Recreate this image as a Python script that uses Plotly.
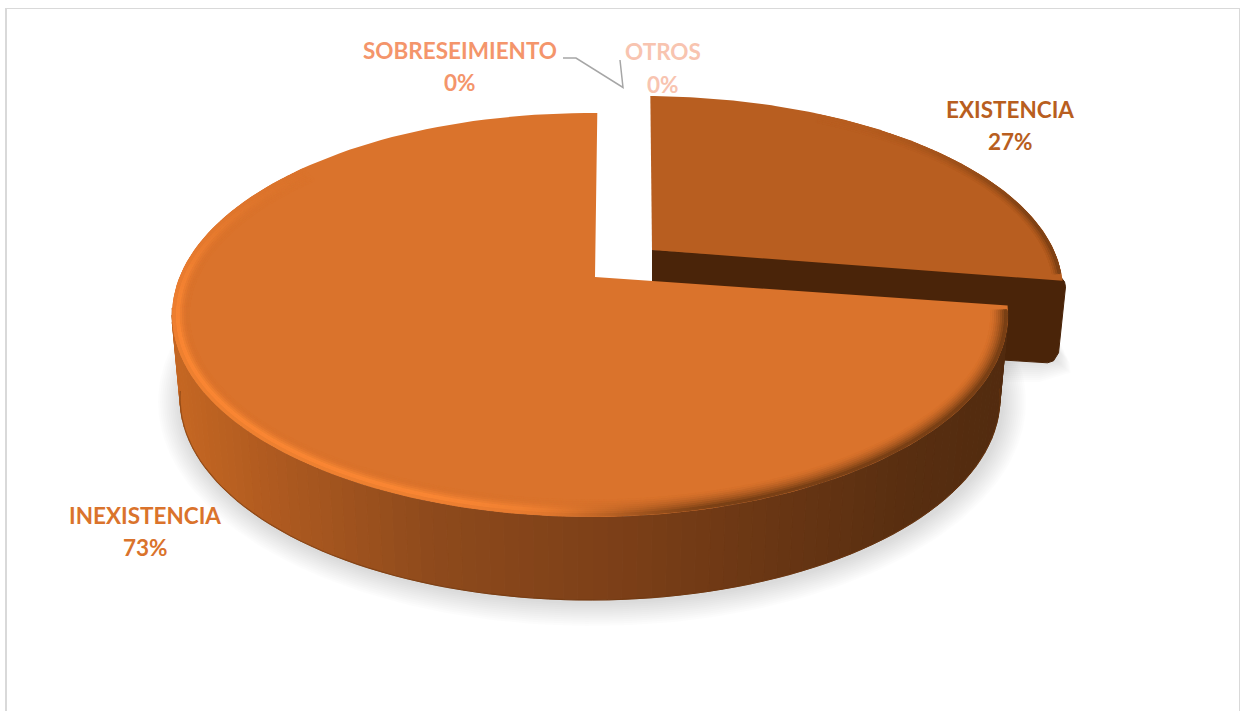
import numpy as np
import plotly.graph_objects as go

# ---- data ----
categories = ["EXISTENCIA", "INEXISTENCIA", "SOBRESEIMIENTO", "OTROS"]
shares = [27, 73, 0, 0]
label_colors = ["#b85e20", "#da732c", "#f4956b", "#f8c4b0"]
# label anchor (centre x, first line y, second line y) in page pixels
label_pos = [(1010, 109, 141), (145, 515, 547), (460, 50, 82), (663, 51, 84)]

FACE = [(0xb8, 0x5e, 0x20), (0xda, 0x73, 0x2c)]


def mix(a, b, w):
    return tuple(a[i] + (b[i] - a[i]) * w for i in range(3))


def rgb(c):
    return "rgb(%d,%d,%d)" % tuple(round(v) for v in c)


def view(theta):
    """Pie angle (deg, clockwise from 12 o'clock) to parameter on the tilted disc."""
    return theta + 1 - 11 * np.sin(np.radians(theta))


def ell(cx, cy, a, b, t):
    t = np.radians(t)
    return cx + a * np.sin(t), cy - b * np.cos(t)


fig = go.Figure()


def poly(x, y, color, line=None):
    fig.add_trace(go.Scatter(x=list(x), y=list(y), mode="lines", fill="toself",
                             fillcolor=color, hoverinfo="skip", showlegend=False,
                             line=dict(color=line or "rgba(0,0,0,0)", width=1 if line else 0)))


def dots(x, y, colors, size):
    fig.add_trace(go.Scatter(x=list(x), y=list(y), mode="markers", hoverinfo="skip",
                             showlegend=False,
                             marker=dict(color=colors, size=size, line=dict(width=0))))


def stroke(x, y, color, width):
    fig.add_trace(go.Scatter(x=list(x), y=list(y), mode="lines", hoverinfo="skip",
                             showlegend=False, line=dict(color=color, width=width)))


def smooth(e0, e1, v):
    f = np.clip((v - e0) / (e1 - e0), 0, 1)
    return f * f * (3 - 2 * f)


# geometry of the two discs (page pixels)
M = dict(cx=590, cy=315, a=418, b=202, ax=595, ay=277, depth=83)
E = dict(cx=643, cy=290, a=420, b=194, ax=652, ay=250)

cum = np.cumsum([0] + shares) / sum(shares) * 360
e_start, e_end = view(cum[0]), view(cum[1])
m_start, m_end = view(cum[1]), view(cum[2])

# soft shadow, lower half only
for k in range(0, 24, 2):
    tt = np.linspace(75, 285, 140)
    x, y = ell(592, 402, 412 + k, 202 + k, tt)
    poly(x, y, "rgba(0,0,0,0.011)")
for k in range(0, 20, 2):
    poly([960, 1040, 1057 + k * 0.7, 1058 + k * 0.7, 1040, 960],
         [330, 330, 335 + 1.5 * k, 362 + k * 0.6, 364 + k, 364 + k],
         "rgba(0,0,0,0.012)")

# EXISTENCIA: cut wall
ex, ey = ell(E["cx"], E["cy"], E["a"], E["b"], e_end)
wall_dark = "#4a2409"
tx = [E["ax"], ex - 2, ex + 2, ex + 3, ex - 4, ex - 9, ex - 15, 1000, E["ax"]]
ty = [E["ay"], ey - 4, ey + 1, ey + 6, ey + 72, ey + 80, ey + 82, ey + 79, E["ay"] + 60]
poly(tx, ty, wall_dark, wall_dark)

# INEXISTENCIA: curved wall, shaded left to right
ts = np.linspace(m_start, 272, 91)
grad = [(0.0, (0x52, 0x2b, 0x0f)), (0.12, (0x58, 0x2e, 0x10)), (0.45, (0x7a, 0x3e, 0x17)),
        (0.7, (0x8e, 0x4a, 0x1c)), (0.9, (0xb0, 0x5b, 0x20)), (1.0, (0xc4, 0x66, 0x22))]


def wall_color(x):
    f = 1 - np.clip((x - 180) / 830.0, 0, 1)
    for (p0, c0), (p1, c1) in zip(grad, grad[1:]):
        if f <= p1:
            return mix(c0, c1, (f - p0) / (p1 - p0))
    return grad[-1][1]


for t0, t1 in zip(ts[:-1], ts[1:]):
    x0, y0 = ell(M["cx"], M["cy"], M["a"], M["b"], t0)
    x1, y1 = ell(M["cx"], M["cy"], M["a"], M["b"], t1)
    x2, y2 = ell(M["cx"], M["cy"] + M["depth"], M["a"] - 8, M["b"], t1)
    x3, y3 = ell(M["cx"], M["cy"] + M["depth"], M["a"] - 8, M["b"], t0)
    c = rgb(wall_color((x0 + x1) / 2))
    poly([x0, x1, x2, x3, x0], [y0, y1, y2, y3, y0], c, c)

# thin lip along the bottom of the wall
bx, by = ell(M["cx"], M["cy"] + M["depth"], M["a"] - 8, M["b"], np.linspace(m_start, 272, 120))
stroke(bx, by, "rgba(110,55,15,0.55)", 1.2)

# top faces
for disc, (s, e), face in ((E, (e_start, e_end), FACE[0]), (M, (m_start, m_end), FACE[1])):
    tt = np.linspace(s, e, 160)
    x, y = ell(disc["cx"], disc["cy"], disc["a"], disc["b"], tt)
    poly(np.r_[disc["ax"], x, disc["ax"]], np.r_[disc["ay"], y, disc["ay"]], rgb(face))

# bevel on the INEXISTENCIA rim: dark on the lower right, bright on the lower left
HI = (0xff, 0x8a, 0x36)
DK = (0x66, 0x36, 0x11)
ring_insets = [16, 14, 12, 10, 8, 6, 4, 2]
ang = np.linspace(m_start + 1.5, m_end, 1500)
rx, ry, rc = [], [], []
for d in ring_insets:
    w_dk = (1 - d / 18.0) ** 1.6
    w_hi = np.clip(1 - abs(d - 5) / 9.0, 0, 1) ** 1.5
    x, y = ell(M["cx"], M["cy"], M["a"] - d, M["b"] - d, ang)
    hi = smooth(165, 205, ang) * (1 - smooth(262, 320, ang))
    dk = 1 - smooth(160, 190, ang)
    for px, py, h, k in zip(x, y, hi, dk):
        if h + k < 0.01:
            continue
        rx.append(px)
        ry.append(py)
        rc.append(rgb(mix(mix(FACE[1], HI, h * w_hi), DK, k * w_dk)))
dots(rx, ry, rc, 3.4)

# thin dark rim on the right of EXISTENCIA
ang = np.linspace(25, e_end - 2.5, 500)
rx, ry, rc = [], [], []
for d in [8, 6, 4, 2]:
    w = (1 - d / 10.0) ** 1.5
    x, y = ell(E["cx"], E["cy"], E["a"] - d, E["b"] - d, ang)
    f = smooth(25, 75, ang)
    for px, py, v in zip(x, y, f):
        rx.append(px)
        ry.append(py)
        rc.append(rgb(mix(FACE[0], (0x6a, 0x38, 0x12), v * w)))
dots(rx, ry, rc, 3.2)

# labels
anns = []
for name, share, col, (lx, y1, y2) in zip(categories, shares, label_colors, label_pos):
    for txt, yy in ((name, y1), ("%d%%" % share, y2)):
        anns.append(dict(x=lx, y=yy, xref="x", yref="y", text="<b>%s</b>" % txt, showarrow=False,
                         xanchor="center", yanchor="middle",
                         font=dict(family="Lato", size=22.5, color=col)))

border = "#d9d9d9"
shapes = [
    dict(type="line", x0=5, x1=1239, y0=8.5, y1=8.5, line=dict(color=border, width=1.2)),
    dict(type="line", x0=6, x1=6, y0=8, y1=711, line=dict(color=border, width=2)),
    dict(type="line", x0=1239.5, x1=1239.5, y0=8, y1=711, line=dict(color=border, width=1)),
    dict(type="path", path="M563,58 L576,58 L623,87.5 L620,60",
         line=dict(color="#a6a6a6", width=1.5)),
]

fig.update_layout(
    width=1240, height=711, margin=dict(l=0, r=0, t=0, b=0), autosize=False,
    paper_bgcolor="white", plot_bgcolor="white", showlegend=False,
    xaxis=dict(range=[0, 1240], visible=False, fixedrange=True),
    yaxis=dict(range=[711, 0], visible=False, fixedrange=True),
    annotations=anns, shapes=shapes,
)
fig.write_html("out.html", config=dict(displayModeBar=False),
               post_script="document.body.style.margin='0';document.body.style.overflow='hidden';")
